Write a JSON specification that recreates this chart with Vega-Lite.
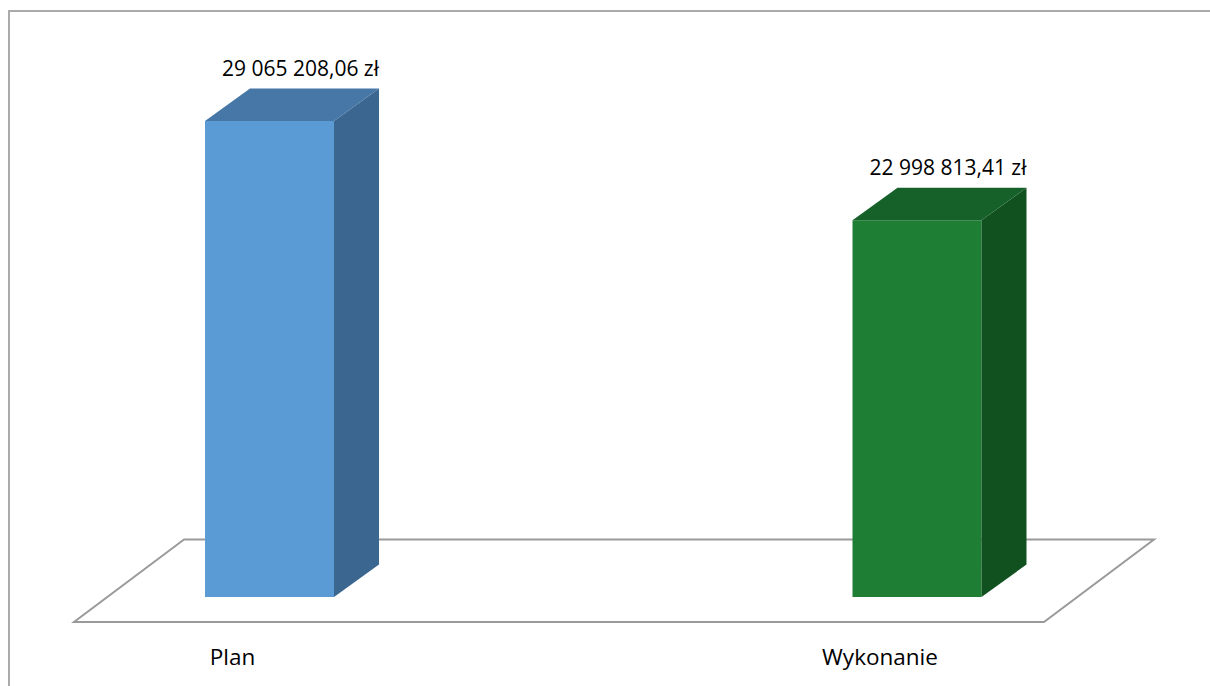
{
  "$schema": "https://vega.github.io/schema/vega-lite/v6.json",
  "width": 1203,
  "height": 677,
  "autosize": {"type": "none"},
  "padding": {"left": 9, "top": 11, "right": 0, "bottom": 0},
  "background": "white",
  "config": {
    "view": {"stroke": "#ababab", "strokeWidth": 2},
    "locale": {"number": {"decimal": ",", "thousands": " ", "grouping": [3], "currency": ["", " zł"]}},
    "text": {"font": "Open Sans", "color": "#000000"}
  },
  "datasets": {
    "wartosci": [
      {"kategoria": "Plan", "wartosc": 29065208.06},
      {"kategoria": "Wykonanie", "wartosc": 22998813.41}
    ],
    "podloga": [{"g": 0}, {"g": 1}]
  },
  "layer": [
    {
      "data": {"name": "podloga"},
      "transform": [
        {"calculate": "-1526534 + datum.g * 5037562", "as": "py"},
        {"calculate": "-0.3019 + datum.g * 0.1699", "as": "px1"},
        {"calculate": "1.1961 + datum.g * 0.1699", "as": "px2"}
      ],
      "mark": {"type": "area", "orient": "horizontal", "fill": "white", "stroke": "#9a9a9a", "strokeWidth": 2},
      "encoding": {
        "y": {"field": "py", "type": "quantitative", "stack": null, "axis": null,
              "scale": {"domain": [-5556584, 35781957], "zero": false, "nice": false}},
        "x": {"field": "px1", "type": "quantitative", "stack": null, "axis": null,
              "scale": {"domain": [-0.402317, 1.455599], "zero": false, "nice": false}},
        "x2": {"field": "px2"}
      }
    },
    {
      "data": {"name": "wartosci"},
      "transform": [
        {"window": [{"op": "row_number", "as": "nr"}]},
        {"calculate": "datum.nr - 1 - 0.0996", "as": "xl"},
        {"calculate": "datum.nr - 1 + 0.0996", "as": "xr"}
      ],
      "mark": {"type": "rect"},
      "encoding": {
        "x": {"field": "xl", "type": "quantitative", "axis": null},
        "x2": {"field": "xr"},
        "y": {"field": "wartosc", "type": "quantitative", "axis": null, "stack": null},
        "y2": {"datum": 0},
        "color": {"field": "kategoria", "type": "nominal", "legend": null,
                  "scale": {"domain": ["Plan", "Wykonanie"], "range": ["#5B9BD5", "#1E7E33"]}}
      }
    },
    {
      "data": {"name": "wartosci"},
      "transform": [
        {"window": [{"op": "row_number", "as": "nr"}]},
        {"calculate": "[0, 1]", "as": "k"},
        {"flatten": ["k"]},
        {"calculate": "datum.nr - 1 + 0.0996 + datum.k * 0.0695", "as": "xs"},
        {"calculate": "datum.wartosc + datum.k * 1984494", "as": "ys"},
        {"calculate": "datum.k * 1984494", "as": "ys2"}
      ],
      "mark": {"type": "area"},
      "encoding": {
        "x": {"field": "xs", "type": "quantitative", "axis": null},
        "y": {"field": "ys", "type": "quantitative", "axis": null, "stack": null},
        "y2": {"field": "ys2"},
        "color": {"field": "kategoria", "type": "nominal", "legend": null,
                  "scale": {"domain": ["Plan", "Wykonanie"], "range": ["#3A6690", "#11501F"]}}
      }
    },
    {
      "data": {"name": "wartosci"},
      "transform": [
        {"window": [{"op": "row_number", "as": "nr"}]},
        {"calculate": "[0, 1]", "as": "k"},
        {"flatten": ["k"]},
        {"calculate": "datum.nr - 1 - 0.0996 + datum.k * 0.0695", "as": "xt"},
        {"calculate": "datum.nr - 1 + 0.0996 + datum.k * 0.0695", "as": "xt2"},
        {"calculate": "datum.wartosc + datum.k * 1984494", "as": "yt"}
      ],
      "mark": {"type": "area", "orient": "horizontal"},
      "encoding": {
        "y": {"field": "yt", "type": "quantitative", "axis": null, "stack": null},
        "x": {"field": "xt", "type": "quantitative", "axis": null, "stack": null},
        "x2": {"field": "xt2"},
        "color": {"field": "kategoria", "type": "nominal", "legend": null,
                  "scale": {"domain": ["Plan", "Wykonanie"], "range": ["#4677A6", "#16602A"]}}
      }
    },
    {
      "data": {"name": "wartosci"},
      "transform": [
        {"window": [{"op": "row_number", "as": "nr"}]},
        {"calculate": "datum.nr - 1", "as": "i"}
      ],
      "mark": {"type": "text", "align": "center", "baseline": "alphabetic", "dx": 31, "dy": -45, "fontSize": 21},
      "encoding": {
        "x": {"field": "i", "type": "quantitative", "axis": null},
        "y": {"field": "wartosc", "type": "quantitative", "axis": null, "stack": null},
        "text": {"field": "wartosc", "type": "quantitative", "format": "$,.2f"}
      }
    },
    {
      "data": {"name": "wartosci"},
      "transform": [
        {"window": [{"op": "row_number", "as": "nr"}]},
        {"calculate": "datum.nr - 1", "as": "i"}
      ],
      "mark": {"type": "text", "align": "center", "baseline": "alphabetic", "dx": -37, "dy": 67.5, "fontSize": 22.5},
      "encoding": {
        "x": {"field": "i", "type": "quantitative", "axis": null},
        "y": {"datum": 0, "type": "quantitative"},
        "text": {"field": "kategoria", "type": "nominal"}
      }
    }
  ],
  "resolve": {"scale": {"color": "independent"}}
}
